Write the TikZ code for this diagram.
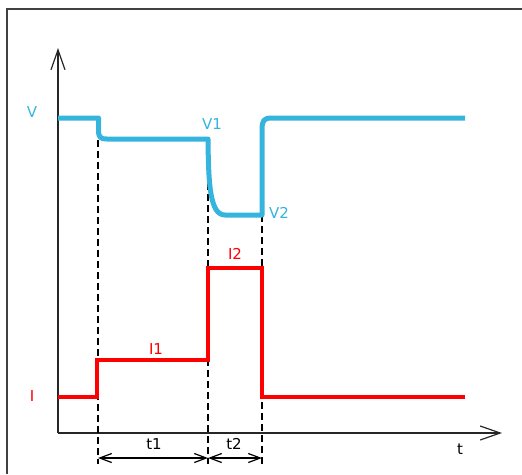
\documentclass[tikz,border=0pt]{standalone}
\usepackage{fontspec}
\setmainfont{DejaVu Sans}
\usetikzlibrary{arrows.meta}
\definecolor{vblue}{HTML}{35B4DE}
\definecolor{ired}{HTML}{FF0000}
\begin{document}
\begin{tikzpicture}[x=1pt,y=-1pt,
  axis/.style={line width=1.2pt,black!85,-{Straight Barb[length=20pt,width=14pt,line width=1.2pt]}},
  vline/.style={line width=5pt,vblue,line join=round},
  iline/.style={line width=4.5pt,ired},
  guide/.style={line width=1.3pt,black,dash pattern=on 7pt off 4pt},
  dim/.style={line width=1.2pt,black,{Straight Barb[length=12pt,width=9pt,line width=1.2pt]}-{Straight Barb[length=12pt,width=9pt,line width=1.2pt]}},
  lbl/.style={font=\fontsize{15}{17}\selectfont,inner sep=0pt}]
\useasboundingbox (0,0) rectangle (522,474);
\draw[line width=1.5pt,black!75] (7,474) -- (7,9) -- (522,9);
% axes
\coordinate (O) at (58,433);
\coordinate (Ytip) at (58,48);
\coordinate (Xtip) at (502,433);
\draw[axis] (O) -- (Ytip);
\draw[axis] (O) -- (Xtip);
\node[lbl] (tl) at (460,449) {t};
\node[lbl,vblue] (Vl) at (32,112) {V};
\node[lbl,ired] (Il) at (32,396) {I};
% key time points
\coordinate (A) at (98,118);
\coordinate (B) at (208,139);
\coordinate (C) at (262,215);
\coordinate (Ab) at (98,464);
\coordinate (Bb) at (208,464);
\coordinate (Cb) at (262,464);
% dashed guides
\draw[guide] (A) -- (Ab);
\draw[guide] (B) -- (Bb);
\draw[guide] (C) -- (Cb);
% voltage curve
\draw[vline] (58,118) -- (98.5,118) -- (98.5,130) .. controls (98.5,137) and (100,139) .. (107,139)
  -- (208,139) .. controls (208.5,185) and (210,215) .. (225,215) -- (262,215)
  -- (262,130) .. controls (262,120) and (264,118) .. (272,118) -- (465,118);
% current curve
\draw[iline] (58,397) -- (97,397) -- (97,360) -- (208,360) -- (208,268) -- (262,268) -- (262,397) -- (465,397);
% labels
\node[lbl,vblue] (V1) at (212,124) {V1};
\node[lbl,vblue] (V2) at (279,213) {V2};
\node[lbl,ired] (I1) at (156,349) {I1};
\node[lbl,ired] (I2) at (235,254) {I2};
% dimensions
\coordinate (D1) at (98,458);
\coordinate (D2) at (208,458);
\coordinate (D3) at (262,458);
\draw[dim] (D1) -- (D2);
\draw[dim] (D2) -- (D3);
\node[lbl] (t1) at (154,444) {t1};
\node[lbl] (t2) at (234,444) {t2};
\end{tikzpicture}
\end{document}
